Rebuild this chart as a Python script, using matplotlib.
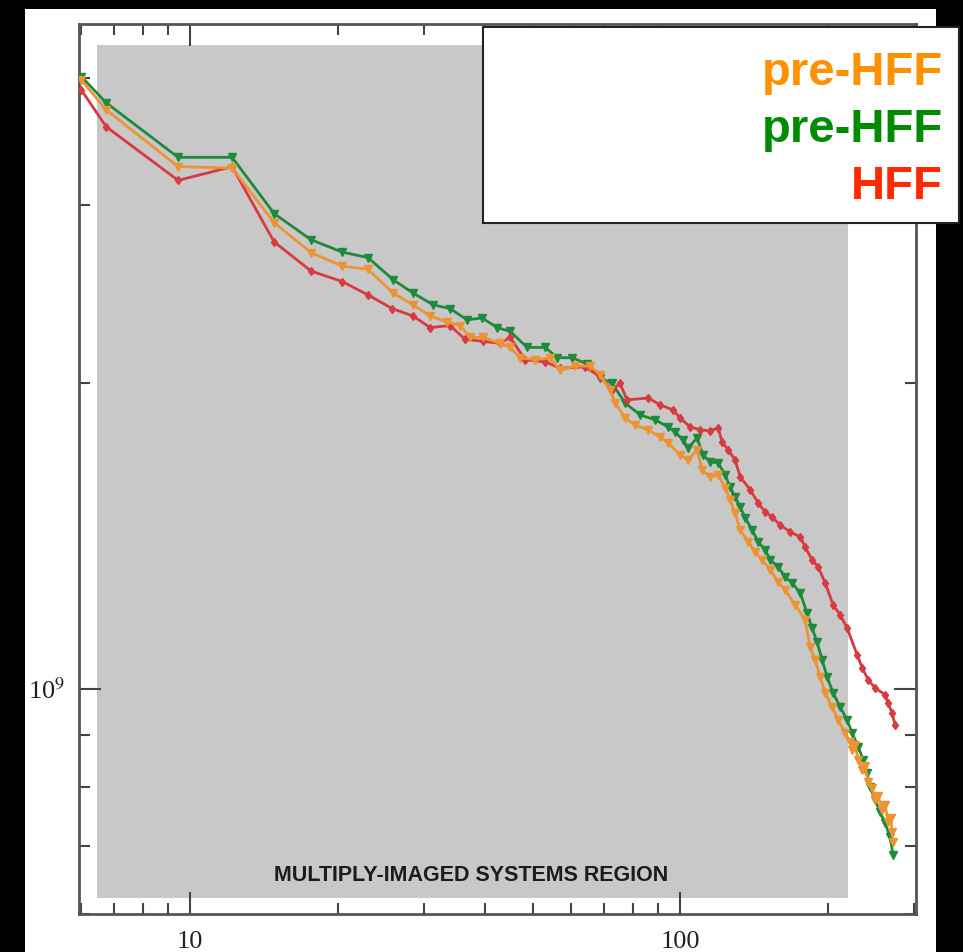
import numpy as np
import matplotlib.pyplot as plt
from matplotlib.patches import Rectangle
from matplotlib.ticker import FixedLocator, FixedFormatter, NullFormatter, LogLocator

plt.rcParams['mathtext.fontset'] = 'stix'
plt.rcParams['font.family'] = ['Liberation Serif', 'DejaVu Serif']

# --- profiles (radius in kpc, mass in units of 1e9) ---
r_orange = [6.0, 6.74, 9.45, 12.18, 14.84, 17.66, 20.43, 23.08, 25.96, 28.51,
            30.88, 33.44, 35.56, 37.27, 39.62, 42.92, 45.0, 47.16, 50.59, 54.29,
            56.9, 61.06, 65.52, 68.67, 71.97, 73.68, 77.2, 80.95, 86.0, 91.0,
            94.5, 100.0, 103.8, 108.3, 110.9, 115.1, 119.6, 123.6, 126.5, 129.5,
            132.6, 137.7, 142.3, 147.0, 152.7, 158.5, 163.8, 171.7, 179.9, 184.2,
            188.6, 193.1, 197.7, 204.3, 210.1, 217.2, 222.3, 224.4, 227.6, 230.9,
            235.3, 238.5, 242.0, 246.5, 250.0, 253.6, 258.4, 261.9, 265.7, 269.5,
            270.7, 272.0]
m_orange = [3.98, 3.72, 3.27, 3.26, 2.88, 2.69, 2.61, 2.59, 2.455, 2.39,
            2.33, 2.30, 2.28, 2.22, 2.22, 2.19, 2.17, 2.12, 2.11, 2.12,
            2.06, 2.08, 2.08, 2.04, 1.97, 1.913, 1.849, 1.82, 1.80, 1.771,
            1.747, 1.70, 1.681, 1.72, 1.644, 1.618, 1.625, 1.578, 1.535, 1.49,
            1.434, 1.396, 1.365, 1.34, 1.31, 1.275, 1.252, 1.21, 1.17, 1.10,
            1.068, 1.028, 0.991, 0.96, 0.932, 0.905, 0.887, 0.871, 0.881, 0.851,
            0.832, 0.840, 0.810, 0.799, 0.777, 0.784, 0.760, 0.769, 0.740, 0.746,
            0.723, 0.707]

r_green = [6.0, 6.74, 9.45, 12.18, 14.84, 17.66, 20.43, 23.08, 25.96, 28.51,
           31.33, 33.92, 36.75, 39.43, 42.32, 45.0, 48.73, 53.03, 56.11, 60.2,
           64.6, 68.67, 72.65, 77.2, 82.87, 88.9, 94.5, 97.7, 101.4, 103.8,
           108.3, 111.4, 115.1, 119.6, 123.6, 126.5, 129.5, 132.6, 135.8, 140.3,
           144.3, 149.1, 152.7, 158.5, 163.8, 169.3, 175.8, 181.6, 185.9, 190.4,
           194.9, 199.5, 205.2, 212.1, 219.2, 224.4, 230.9, 236.4, 240.8, 244.3,
           250.0, 256.0, 261.9, 268.2, 272.0]
m_green = [4.01, 3.78, 3.34, 3.34, 2.94, 2.77, 2.694, 2.66, 2.53, 2.455,
           2.39, 2.37, 2.31, 2.32, 2.27, 2.25, 2.17, 2.17, 2.12, 2.12,
           2.09, 2.025, 2.00, 1.913, 1.862, 1.841, 1.812, 1.79, 1.76, 1.727,
           1.767, 1.70, 1.674, 1.67, 1.625, 1.58, 1.546, 1.511, 1.474, 1.434,
           1.396, 1.371, 1.34, 1.319, 1.289, 1.272, 1.243, 1.188, 1.148, 1.112,
           1.068, 1.028, 0.991, 0.96, 0.932, 0.905, 0.877, 0.851, 0.826, 0.80,
           0.777, 0.756, 0.738, 0.715, 0.686]

r_red = [6.0, 6.74, 9.45, 12.18, 14.84, 17.66, 20.43, 23.08, 25.84, 28.51,
         30.88, 33.92, 36.41, 39.62, 42.92, 45.0, 48.28, 53.03, 56.9, 63.99,
         68.67, 72.65, 75.4, 77.93, 86.0, 91.0, 96.76, 100.0, 104.8, 109.9,
         115.1, 119.6, 121.8, 125.3, 129.5, 132.6, 139.0, 144.3, 149.1, 154.1,
         160.0, 167.7, 175.8, 179.9, 185.9, 191.3, 197.7, 205.2, 212.1, 219.2,
         229.8, 235.3, 242.0, 250.0, 261.9, 265.7, 270.7, 274.6]
m_red = [3.89, 3.58, 3.17, 3.27, 2.757, 2.58, 2.52, 2.444, 2.37, 2.33,
         2.27, 2.28, 2.21, 2.20, 2.19, 2.22, 2.11, 2.10, 2.07, 2.076,
         2.03, 1.97, 2.00, 1.926, 1.935, 1.905, 1.883, 1.849, 1.812, 1.80,
         1.796, 1.808, 1.751, 1.72, 1.681, 1.618, 1.571, 1.525, 1.494, 1.477,
         1.45, 1.428, 1.412, 1.38, 1.34, 1.319, 1.272, 1.21, 1.183, 1.148,
         1.08, 1.049, 1.021, 1.002, 0.987, 0.969, 0.947, 0.922]

legend_labels = ['pre-HFF', 'pre-HFF', 'HFF']
legend_colors = ['#ff9100', '#008c00', '#ff2a00']

fig = plt.figure(figsize=(9.63, 9.52), dpi=100, facecolor='black')

# white page behind the plot
fig.patches.append(Rectangle((0.026, 0.0), 0.946, 0.9905, transform=fig.transFigure,
                             facecolor='white', edgecolor='none', zorder=-10))

ax = fig.add_axes([0.0820, 0.0399, 0.8692, 0.9349])
ax.set_facecolor('white')
ax.set_xscale('log')
ax.set_yscale('log')
ax.set_xlim(5.93, 303)
ax.set_ylim(6.0e8, 4.52e9)

# shaded strong-lensing region
ax.add_patch(Rectangle((6.46, 6.22e8), 220 - 6.46, 4.31e9 - 6.22e8,
                       facecolor='#c8c8c8', edgecolor='none', zorder=1))
ax.text(0.468, 0.0438, 'MULTIPLY-IMAGED SYSTEMS REGION', transform=ax.transAxes,
        ha='center', va='center', fontsize=15.5, fontweight='bold',
        family=['Liberation Sans', 'DejaVu Sans'], color='#1c1c1c', zorder=2)

ax.plot(r_green, np.array(m_green) * 1e9, color='#1e8a3c', lw=2.0,
        marker='v', ms=5.5, zorder=3)
ax.plot(r_red, np.array(m_red) * 1e9, color='#d83a40', lw=2.0,
        marker='d', ms=4.5, zorder=4)
ax.plot(r_orange, np.array(m_orange) * 1e9, color='#ec9434', lw=2.0,
        marker='v', ms=6, zorder=5)

# ticks
ax.xaxis.set_major_locator(FixedLocator([10, 100]))
ax.xaxis.set_major_formatter(FixedFormatter(['10', '100']))
ax.xaxis.set_minor_locator(LogLocator(base=10, subs=np.arange(2, 10)))
ax.xaxis.set_minor_formatter(NullFormatter())
ax.yaxis.set_major_locator(FixedLocator([1e9]))
ax.yaxis.set_major_formatter(FixedFormatter(['10$^9$']))
ax.yaxis.set_minor_locator(LogLocator(base=10, subs=np.arange(2, 10)))
ax.yaxis.set_minor_formatter(NullFormatter())
ax.tick_params(which='both', direction='in', top=True, right=True,
               color='#444444', width=1.5, labelsize=19, labelcolor='#222222')
ax.tick_params(which='major', length=16)
ax.tick_params(which='minor', length=8)
ax.tick_params(axis='x', pad=12)
ax.tick_params(axis='y', pad=10)
for sp in ax.spines.values():
    sp.set_color('#555555')
    sp.set_linewidth(2)

# label box in the upper right corner
fig.patches.append(Rectangle((0.5016, 0.7658), 0.4942, 0.2058, transform=fig.transFigure,
                             facecolor='white', edgecolor='#222222', lw=1.5, zorder=10))
for i, (lab, col) in enumerate(zip(legend_labels, legend_colors)):
    fig.text(0.979, 1 - (85 + 57 * i) / 952, lab, ha='right', va='baseline',
             fontsize=34, fontweight='bold', color=col,
             family=['Liberation Sans', 'DejaVu Sans'], zorder=11)

fig.savefig('out.png', dpi=100, facecolor='black')
